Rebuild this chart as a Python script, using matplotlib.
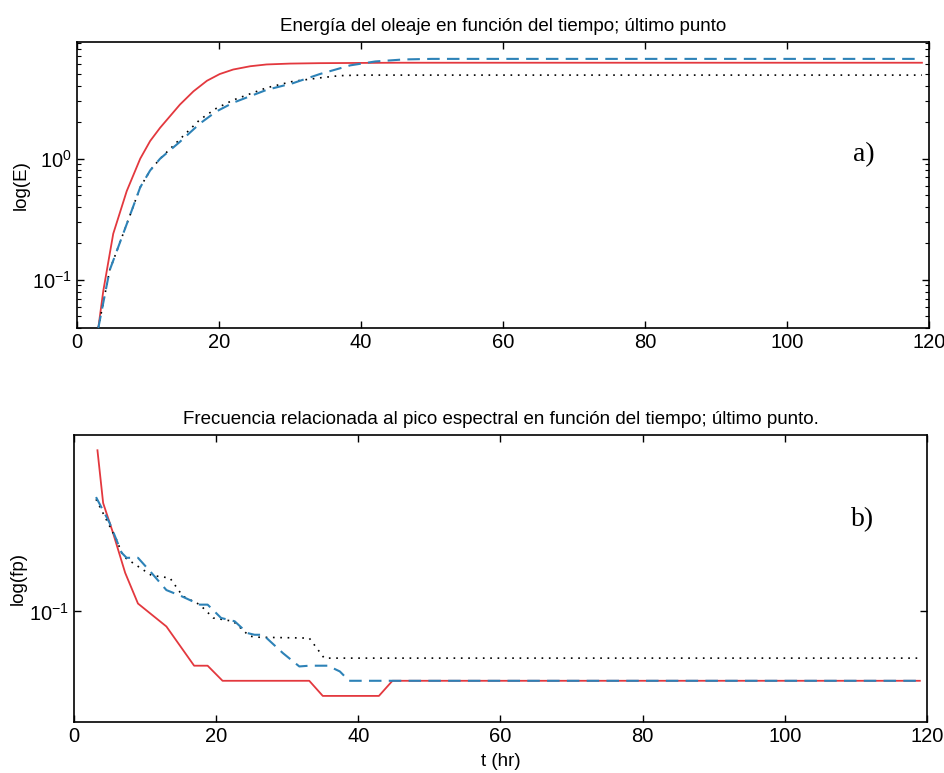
import matplotlib
matplotlib.use("Agg")
import matplotlib.pyplot as plt
from matplotlib.ticker import NullLocator, NullFormatter, LogLocator
import numpy as np

plt.rcParams['font.family'] = ['Liberation Sans', 'DejaVu Sans']

# --- a) energy vs time ---
t_e_red = [3.0, 3.7, 5.1, 7.0, 8.9, 10.3, 11.7, 14.5, 16.4, 18.3, 20.1, 22.0, 24.4, 26.7, 30.0,
           34.2, 45, 60, 80, 100, 119]
e_red = [0.04, 0.081, 0.24, 0.54, 1.0, 1.4, 1.8, 2.8, 3.6, 4.4, 5.0, 5.45, 5.8, 6.0, 6.1,
         6.15, 6.2, 6.2, 6.2, 6.2, 6.2]

t_e_blue = [3.0, 4.6, 7.2, 8.9, 10.3, 11.7, 14.5, 17.3, 19.6, 22.0, 26.7, 30.4, 34.2, 38.5, 42,
            46, 50, 60, 80, 100, 119]
e_blue = [0.04, 0.12, 0.31, 0.58, 0.8, 1.0, 1.38, 1.95, 2.45, 2.9, 3.7, 4.2, 5.0, 5.9, 6.35,
          6.6, 6.67, 6.67, 6.67, 6.67, 6.67]

t_e_black = [3.0, 4.6, 7.2, 8.9, 10.3, 11.7, 14.5, 17.3, 19.6, 22.0, 26.7, 30.4, 34.2, 37, 40,
             60, 80, 100, 119]
e_black = [0.04, 0.12, 0.31, 0.58, 0.8, 1.0, 1.45, 2.1, 2.6, 3.05, 3.85, 4.35, 4.65, 4.85, 4.9,
           4.9, 4.9, 4.9, 4.9]

# --- b) peak frequency vs time ---
t_f_red = [3.3, 4.1, 5.5, 7.2, 9.0, 13.0, 16.9, 18.8, 20.9, 33.1, 35.0, 42.9, 44.8, 60, 80, 100, 119]
f_red = [0.395, 0.252, 0.195, 0.139, 0.107, 0.088, 0.063, 0.063, 0.0554, 0.0554, 0.0487, 0.0487,
         0.0554, 0.0554, 0.0554, 0.0554, 0.0554]

t_f_blue = [3.1, 5.0, 6.7, 7.4, 9.0, 10.9, 13.0, 15.1, 17.7, 18.8, 20.7, 22.6, 24.4, 25.4, 26.6,
            29.4, 31.7, 33.1, 35.7, 37.4, 38.7, 60, 80, 100, 119]
f_blue = [0.265, 0.213, 0.165, 0.158, 0.158, 0.139, 0.120, 0.114, 0.106, 0.106, 0.0946, 0.092,
          0.0832, 0.082, 0.082, 0.0701, 0.0626, 0.063, 0.063, 0.060, 0.0554, 0.0554, 0.0554,
          0.0554, 0.0554]

t_f_black = [3.1, 4.5, 6.0, 6.9, 10.9, 13.5, 15.3, 17.7, 19.6, 22.4, 24.7, 26.0, 33.1, 35.2,
             60, 80, 100, 119]
f_black = [0.26, 0.22, 0.184, 0.16, 0.136, 0.133, 0.114, 0.106, 0.0946, 0.092, 0.081, 0.0803,
           0.0797, 0.0672, 0.0672, 0.0672, 0.0672, 0.0672]

x_ticks = [0, 20, 40, 60, 80, 100, 120]

red = '#e3383e'
blue = '#2d82b7'

fig = plt.figure(figsize=(9.45, 7.73), dpi=100)
ax1 = fig.add_axes([0.0815, 0.5757, 0.9016, 0.370])
ax2 = fig.add_axes([0.0783, 0.066, 0.9026, 0.3713])

ax1.plot(t_e_red, e_red, color=red, lw=1.3, zorder=2)
ax1.plot(t_e_black, e_black, color='black', lw=1.2, linestyle=(0, (1, 3.4)), zorder=3)
ax1.plot(t_e_blue, e_blue, color=blue, lw=1.5, linestyle=(0, (6, 3.5)), zorder=4)
ax1.set_yscale('log')
ax1.set_ylim(0.04, 9.2)
ax1.set_xlim(0, 120)
ax1.set_ylabel('log(E)', fontsize=13.5, labelpad=2)
ax1.set_title('Energía del oleaje en función del tiempo; último punto', fontsize=13.5, pad=8)
ax1.text(0.924, 0.605, 'a)', transform=ax1.transAxes, fontsize=20,
         family='Liberation Serif', ha='center', va='center')
ax1.yaxis.set_minor_locator(LogLocator(base=10, subs=np.arange(2, 10)))
ax1.yaxis.set_minor_formatter(NullFormatter())

ax2.plot(t_f_red, f_red, color=red, lw=1.3, zorder=2)
ax2.plot(t_f_black, f_black, color='black', lw=1.2, linestyle=(0, (1, 3.4)), zorder=3)
ax2.plot(t_f_blue, f_blue, color=blue, lw=1.5, linestyle=(0, (6, 3.5)), zorder=4)
ax2.set_yscale('log')
ax2.set_ylim(0.039, 0.45)
ax2.set_xlim(0, 120)
ax2.yaxis.set_minor_locator(NullLocator())
ax2.yaxis.set_minor_formatter(NullFormatter())
ax2.set_ylabel('log(fp)', fontsize=13.5, labelpad=2)
ax2.set_xlabel('t (hr)', fontsize=13.5, labelpad=5)
ax2.set_title('Frecuencia relacionada al pico espectral en función del tiempo; último punto.',
              fontsize=13.5, pad=8)
ax2.text(0.924, 0.704, 'b)', transform=ax2.transAxes, fontsize=20,
         family='Liberation Serif', ha='center', va='center')

for ax in (ax1, ax2):
    ax.set_xticks(x_ticks)
    ax.tick_params(which='both', direction='in', top=True, right=True, labelsize=14.5)
    ax.tick_params(which='major', length=5, width=1)
    ax.tick_params(which='minor', length=3, width=0.8)
    ax.xaxis.set_minor_locator(NullLocator())
    for s in ax.spines.values():
        s.set_linewidth(1.2)

fig.savefig('out.png', dpi=100)
